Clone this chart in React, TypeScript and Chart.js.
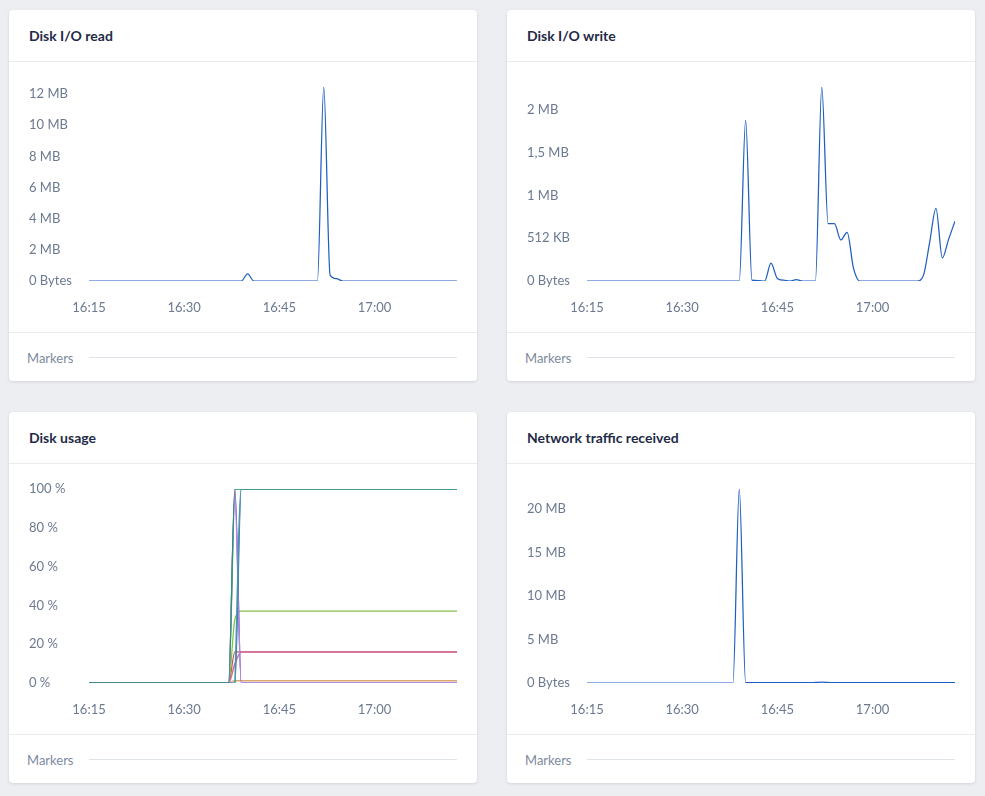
import React, { useEffect, useRef } from "react";
import { Chart, registerables } from "chart.js";

Chart.register(...registerables);

// Time axis (minutes after 16:00)
const minutes = [
  15, 16, 17, 18, 19, 20, 21, 22, 23, 24, 25, 26, 27, 28, 29, 30, 31, 32, 33, 34,
  35, 36, 37, 38, 39, 40, 41, 42, 43, 44, 45, 46, 47, 48, 49, 50, 51, 52, 53, 54,
  55, 56, 57, 58, 59, 60, 61, 62, 63, 64, 65, 66, 67, 68, 69, 70, 71, 72, 73,
];
const timeMin = 15;
const timeMax = 73;
const timeTickValues = [15, 30, 45, 60];
const timeTickLabels = ["16:15", "16:30", "16:45", "17:00"];

// Disk I/O read (MB)
const readValues = [
  0, 0, 0, 0, 0, 0, 0, 0, 0, 0, 0, 0, 0, 0, 0, 0, 0, 0, 0, 0,
  0, 0, 0, 0, 0, 0.45, 0, 0, 0, 0, 0, 0, 0, 0, 0, 0, 0, 12.45, 0.38, 0.15,
  0, 0, 0, 0, 0, 0, 0, 0, 0, 0, 0, 0, 0, 0, 0, 0, 0, 0, 0,
];
const readTickValues = [0, 2, 4, 6, 8, 10, 12];
const readTickLabels = ["0 Bytes", "2 MB", "4 MB", "6 MB", "8 MB", "10 MB", "12 MB"];

// Disk I/O write (MB)
const writeValues = [
  0, 0, 0, 0, 0, 0, 0, 0, 0, 0, 0, 0, 0, 0, 0, 0, 0, 0, 0, 0,
  0, 0, 0, 0, 0, 1.88, 0.01, 0.005, 0, 0.21, 0.03, 0.01, 0, 0.015, 0, 0, 0, 2.27, 0.67, 0.67,
  0.48, 0.57, 0.15, 0, 0, 0, 0, 0, 0, 0, 0, 0, 0, 0.06, 0.45, 0.85, 0.27, 0.49, 0.7,
];
const writeTickValues = [0, 0.5, 1, 1.5, 2];
const writeTickLabels = ["0 Bytes", "512 KB", "1 MB", "1,5 MB", "2 MB"];

// Network traffic received (MB)
const netValues = [
  0, 0, 0, 0, 0, 0, 0, 0, 0, 0, 0, 0, 0, 0, 0, 0, 0, 0, 0, 0,
  0, 0, 0, 0, 22.3, 0.05, 0.03, 0.03, 0.03, 0.03, 0.03, 0.03, 0.03, 0.03, 0.03, 0.03, 0.06, 0.1, 0.06, 0.03,
  0.03, 0.03, 0.03, 0.03, 0.03, 0.03, 0.03, 0.03, 0.03, 0.03, 0.03, 0.03, 0.03, 0.03, 0.03, 0.03, 0.03, 0.03, 0.03,
];
const netTickValues = [0, 5, 10, 15, 20];
const netTickLabels = ["0 Bytes", "5 MB", "10 MB", "15 MB", "20 MB"];

// Disk usage (%)
const diskMinutes = [15, 37, 38, 39, 73];
const diskTeal = [null, null, 0, 100, 100];
const diskGreen = [0, 0, 100, 100, 100];
const diskBlue = [0, 0, 0, 100, 100];
const diskLavender = [0, 0, 95, 0, 0];
const diskPurple = [0, 0, 100, 0, 0];
const diskLightGreen = [0, 0, 33, 37, 37];
const diskPink = [0, 0, 10, 16, 16];
const diskRed = [0, 0, 16, 16, 16];
const diskTan = [0, 0, 1.2, 1.2, 1.2];
const diskTickValues = [0, 20, 40, 60, 80, 100];
const diskTickLabels = ["0 %", "20 %", "40 %", "60 %", "80 %", "100 %"];

const FONT = "Lato, 'Noto Sans', sans-serif";
const TICK_COLOR = "#6b7a90";
const LINE_BLUE = "#1f5fbf";

type Series = { values: (number | null)[]; color: string; width: number };

function LineChart(props: {
  xs: number[];
  series: Series[];
  yTickValues: number[];
  yTickLabels: string[];
  yMax: number;
}) {
  const ref = useRef<HTMLCanvasElement>(null);
  useEffect(() => {
    const { xs, series, yTickValues, yTickLabels, yMax } = props;
    const chart = new Chart(ref.current as HTMLCanvasElement, {
      type: "line",
      data: {
        datasets: series.map((s) => ({
          data: s.values.map((v, i) => ({ x: xs[i], y: v })),
          borderColor: s.color,
          backgroundColor: s.color,
          borderWidth: s.width,
          pointRadius: 0,
          pointHoverRadius: 0,
          fill: false,
          cubicInterpolationMode: "monotone",
          spanGaps: false,
        })) as any,
      },
      options: {
        animation: false,
        responsive: false,
        maintainAspectRatio: false,
        layout: { padding: { left: 20, right: 20, top: 25, bottom: 0 } },
        plugins: { legend: { display: false }, tooltip: { enabled: false } },
        scales: {
          x: {
            type: "linear",
            min: timeMin,
            max: timeMax,
            grid: { display: false, drawTicks: false },
            border: { display: false },
            afterBuildTicks: (s: any) => {
              s.ticks = timeTickValues.map((v) => ({ value: v }));
            },
            afterFit: (s: any) => {
              s.height = 51;
            },
            ticks: {
              padding: 19,
              maxRotation: 0,
              autoSkip: false,
              color: TICK_COLOR,
              font: { family: FONT, size: 13 },
              callback: (_v: any, i: number) => timeTickLabels[i],
            },
          },
          y: {
            type: "linear",
            min: 0,
            max: yMax,
            grid: { display: false, drawTicks: false },
            border: { display: false },
            afterBuildTicks: (s: any) => {
              s.ticks = yTickValues.map((v) => ({ value: v }));
            },
            afterFit: (s: any) => {
              s.width = 60;
            },
            ticks: {
              crossAlign: "far",
              padding: 0,
              autoSkip: false,
              color: TICK_COLOR,
              font: { family: FONT, size: 13 },
              callback: (_v: any, i: number) => yTickLabels[i],
            },
          },
        },
      } as any,
    });
    return () => chart.destroy();
  }, []);
  return (
    <canvas
      ref={ref}
      width={468}
      height={270}
      style={{ display: "block", width: 468, height: 270 }}
    />
  );
}

function Card(props: { left: number; top: number; title: string; children: React.ReactNode }) {
  return (
    <div
      style={{
        position: "absolute",
        left: props.left,
        top: props.top,
        width: 468,
        height: 371,
        background: "#ffffff",
        borderRadius: 4,
        boxShadow: "0 1px 3px rgba(30,40,60,0.13)",
        overflow: "hidden",
      }}
    >
      <div
        style={{
          height: 51,
          borderBottom: "1px solid #e9ebef",
          boxSizing: "content-box",
          position: "relative",
        }}
      >
        <div
          style={{
            position: "absolute",
            left: 20,
            top: 17,
            fontFamily: FONT,
            fontWeight: 700,
            fontSize: 14,
            lineHeight: "18px",
            color: "#1f2b47",
          }}
        >
          {props.title}
        </div>
      </div>
      <div style={{ height: 270 }}>{props.children}</div>
      <div style={{ height: 48, borderTop: "1px solid #e9ebef", position: "relative" }}>
        <div
          style={{
            position: "absolute",
            left: 18,
            top: 17,
            fontFamily: FONT,
            fontSize: 13,
            lineHeight: "16px",
            color: "#7d8aa0",
          }}
        >
          Markers
        </div>
        <div
          style={{
            position: "absolute",
            left: 80,
            top: 24,
            width: 368,
            height: 1,
            background: "#dfe3ea",
          }}
        />
      </div>
    </div>
  );
}

export default function App() {
  const readSeries: Series[] = [{ values: readValues, color: LINE_BLUE, width: 1.25 }];
  const writeSeries: Series[] = [{ values: writeValues, color: LINE_BLUE, width: 1.25 }];
  const netSeries: Series[] = [{ values: netValues, color: LINE_BLUE, width: 1.25 }];
  const diskSeries: Series[] = [
    { values: diskTeal, color: "#4a98a6", width: 1.5 },
    { values: diskGreen, color: "#1e9a62", width: 1.25 },
    { values: diskBlue, color: "#3a74c9", width: 1.25 },
    { values: diskLavender, color: "#a98ce0", width: 1.5 },
    { values: diskPurple, color: "#7a2fbf", width: 1.25 },
    { values: diskLightGreen, color: "#86bf4c", width: 1.25 },
    { values: diskPink, color: "#d46fa0", width: 1.5 },
    { values: diskRed, color: "#c7504f", width: 1.25 },
    { values: diskTan, color: "#d9a86c", width: 1.5 },
  ];
  return (
    <div
      style={{
        position: "fixed",
        left: 0,
        top: 0,
        width: 985,
        height: 796,
        background: "#edeef2",
        overflow: "hidden",
      }}
    >
      <Card left={9} top={10} title="Disk I/O read">
        <LineChart
          xs={minutes}
          series={readSeries}
          yTickValues={readTickValues}
          yTickLabels={readTickLabels}
          yMax={Math.max(...readValues)}
        />
      </Card>
      <Card left={507} top={10} title="Disk I/O write">
        <LineChart
          xs={minutes}
          series={writeSeries}
          yTickValues={writeTickValues}
          yTickLabels={writeTickLabels}
          yMax={Math.max(...writeValues)}
        />
      </Card>
      <Card left={9} top={412} title="Disk usage">
        <LineChart
          xs={diskMinutes}
          series={diskSeries}
          yTickValues={diskTickValues}
          yTickLabels={diskTickLabels}
          yMax={100}
        />
      </Card>
      <Card left={507} top={412} title="Network traffic received">
        <LineChart
          xs={minutes}
          series={netSeries}
          yTickValues={netTickValues}
          yTickLabels={netTickLabels}
          yMax={Math.max(...netValues)}
        />
      </Card>
    </div>
  );
}
